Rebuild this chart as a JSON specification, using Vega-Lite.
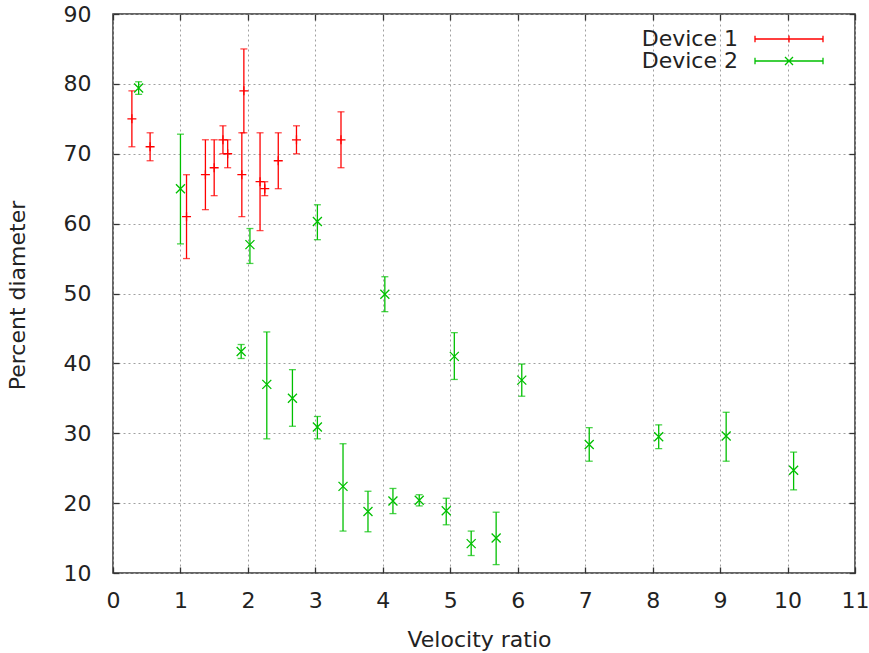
{
  "$schema": "https://vega.github.io/schema/vega-lite/v6.json",
  "width": 742,
  "height": 559,
  "autosize": {"type": "none"},
  "padding": {"left": 113, "top": 14, "right": 14, "bottom": 80},
  "background": "white",
  "config": {
    "font": "DejaVu Sans",
    "view": {"stroke": "#333333", "strokeWidth": 1.5},
    "axis": {
      "labelFont": "DejaVu Sans",
      "titleFont": "DejaVu Sans",
      "labelFontSize": 22,
      "titleFontSize": 22,
      "titleFontWeight": "normal",
      "labelColor": "#222222",
      "titleColor": "#222222",
      "domain": false,
      "tickColor": "#333333",
      "tickWidth": 1.3,
      "tickSize": -6,
      "labelFlush": false,
      "labelOverlap": false,
      "labelBound": false,
      "gridColor": "#a0a0a0",
      "gridDash": [2, 3],
      "gridWidth": 1
    }
  },
  "data": {
    "values": [
      {"device": "Device 1", "x": 0.28, "y": 75, "lo": 71, "hi": 79},
      {"device": "Device 1", "x": 0.55, "y": 71, "lo": 69, "hi": 73},
      {"device": "Device 1", "x": 1.09, "y": 61, "lo": 55, "hi": 67},
      {"device": "Device 1", "x": 1.37, "y": 67, "lo": 62, "hi": 72},
      {"device": "Device 1", "x": 1.50, "y": 68, "lo": 64, "hi": 72},
      {"device": "Device 1", "x": 1.63, "y": 72, "lo": 70, "hi": 74},
      {"device": "Device 1", "x": 1.70, "y": 70, "lo": 68, "hi": 72},
      {"device": "Device 1", "x": 1.91, "y": 67, "lo": 61, "hi": 73},
      {"device": "Device 1", "x": 1.94, "y": 79, "lo": 73, "hi": 85},
      {"device": "Device 1", "x": 2.18, "y": 66, "lo": 59, "hi": 73},
      {"device": "Device 1", "x": 2.25, "y": 65, "lo": 64, "hi": 66},
      {"device": "Device 1", "x": 2.45, "y": 69, "lo": 65, "hi": 73},
      {"device": "Device 1", "x": 2.72, "y": 72, "lo": 70, "hi": 74},
      {"device": "Device 1", "x": 3.38, "y": 72, "lo": 68, "hi": 76},
      {"device": "Device 2", "x": 0.38, "y": 79.4, "lo": 78.5, "hi": 80.3},
      {"device": "Device 2", "x": 1.00, "y": 65, "lo": 57.1, "hi": 72.8},
      {"device": "Device 2", "x": 1.90, "y": 41.7, "lo": 40.7, "hi": 42.7},
      {"device": "Device 2", "x": 2.03, "y": 57, "lo": 54.3, "hi": 59.3},
      {"device": "Device 2", "x": 2.28, "y": 37, "lo": 29.2, "hi": 44.5},
      {"device": "Device 2", "x": 2.66, "y": 35, "lo": 31, "hi": 39.1},
      {"device": "Device 2", "x": 3.03, "y": 60.3, "lo": 57.7, "hi": 62.7},
      {"device": "Device 2", "x": 3.03, "y": 30.9, "lo": 29.2, "hi": 32.4},
      {"device": "Device 2", "x": 3.41, "y": 22.4, "lo": 16.0, "hi": 28.5},
      {"device": "Device 2", "x": 3.78, "y": 18.8, "lo": 15.9, "hi": 21.7},
      {"device": "Device 2", "x": 4.03, "y": 49.9, "lo": 47.4, "hi": 52.4},
      {"device": "Device 2", "x": 4.15, "y": 20.3, "lo": 18.5, "hi": 22.1},
      {"device": "Device 2", "x": 4.54, "y": 20.4, "lo": 19.6, "hi": 21.2},
      {"device": "Device 2", "x": 4.94, "y": 18.9, "lo": 16.9, "hi": 20.7},
      {"device": "Device 2", "x": 5.06, "y": 41, "lo": 37.7, "hi": 44.4},
      {"device": "Device 2", "x": 5.31, "y": 14.2, "lo": 12.5, "hi": 16.0},
      {"device": "Device 2", "x": 5.68, "y": 15, "lo": 11.2, "hi": 18.7},
      {"device": "Device 2", "x": 6.06, "y": 37.6, "lo": 35.3, "hi": 39.9},
      {"device": "Device 2", "x": 7.06, "y": 28.4, "lo": 26.0, "hi": 30.8},
      {"device": "Device 2", "x": 8.09, "y": 29.5, "lo": 27.8, "hi": 31.2},
      {"device": "Device 2", "x": 9.09, "y": 29.6, "lo": 26.0, "hi": 33.0},
      {"device": "Device 2", "x": 10.09, "y": 24.7, "lo": 21.9, "hi": 27.3}
    ]
  },
  "layer": [
    {
      "mark": {"type": "rule", "strokeWidth": 1.3},
      "encoding": {
        "x": {
          "field": "x", "type": "quantitative",
          "scale": {"domain": [0, 11], "nice": false, "zero": false},
          "axis": {
            "orient": "bottom",
            "values": [0, 1, 2, 3, 4, 5, 6, 7, 8, 9, 10, 11],
            "grid": true,
            "labelBaseline": "alphabetic",
            "labelPadding": 40,
            "title": "Velocity ratio",
            "titleX": 366,
            "titleY": 73,
            "titleBaseline": "alphabetic"
          }
        },
        "y": {
          "field": "lo", "type": "quantitative",
          "scale": {"domain": [10, 90], "nice": false, "zero": false},
          "axis": {
            "orient": "left",
            "values": [10, 20, 30, 40, 50, 60, 70, 80, 90],
            "grid": true,
            "labelPadding": 28,
            "title": "Percent diameter",
            "titleX": -89,
            "titleY": 281,
            "titleAngle": -90,
            "titleAlign": "center",
            "titleBaseline": "alphabetic"
          }
        },
        "y2": {"field": "hi"},
        "color": {
          "field": "device", "type": "nominal",
          "scale": {"domain": ["Device 1", "Device 2"], "range": ["#ff0000", "#00c000"]},
          "legend": {
            "title": null,
            "orient": "none",
            "legendX": 665,
            "legendY": 14,
            "padding": 0,
            "symbolSize": 256,
            "symbolStrokeWidth": 1.3,
            "labelFont": "DejaVu Sans",
            "labelFontSize": 22,
            "labelColor": "#222222",
            "labelAlign": "right",
            "labelOffset": -62,
            "rowPadding": -2,
            "encode": {
              "symbols": {
                "update": {
                  "shape": {"signal": "datum.value === 'Device 1' ? 'M-4.25,0H4.25M-4.25,-0.4V0.4M4.25,-0.4V0.4M0,-0.45V0.45' : 'M-4.25,0H4.25M-4.25,-0.4V0.4M4.25,-0.4V0.4M-0.5,-0.5L0.5,0.5M-0.5,0.5L0.5,-0.5'"},
                  "stroke": {"scale": "color", "field": "value"},
                  "fill": {"value": "transparent"},
                  "strokeWidth": {"value": 1.3}
                }
              }
            }
          }
        }
      }
    },
    {
      "mark": {"type": "tick", "orient": "horizontal", "size": 7, "thickness": 1.3},
      "encoding": {
        "x": {
          "field": "x", "type": "quantitative",
          "axis": {
            "orient": "top",
            "values": [0, 1, 2, 3, 4, 5, 6, 7, 8, 9, 10, 11],
            "labels": false, "grid": false, "title": null
          }
        },
        "y": {
          "field": "lo", "type": "quantitative",
          "axis": {
            "orient": "right",
            "values": [10, 20, 30, 40, 50, 60, 70, 80, 90],
            "labels": false, "grid": false, "title": null
          }
        },
        "color": {"field": "device", "type": "nominal"}
      }
    },
    {
      "mark": {"type": "tick", "orient": "horizontal", "size": 7, "thickness": 1.3},
      "encoding": {
        "x": {"field": "x", "type": "quantitative", "axis": null},
        "y": {"field": "hi", "type": "quantitative", "axis": null},
        "color": {"field": "device", "type": "nominal"}
      }
    },
    {
      "transform": [{"filter": "datum.device === 'Device 1'"}],
      "mark": {"type": "point", "shape": "M-1,0H1M0,-1V1", "filled": false, "opacity": 1, "size": 81, "strokeWidth": 1.3},
      "encoding": {
        "x": {"field": "x", "type": "quantitative", "axis": null},
        "y": {"field": "y", "type": "quantitative", "axis": null},
        "color": {"field": "device", "type": "nominal"}
      }
    },
    {
      "transform": [{"filter": "datum.device === 'Device 2'"}],
      "mark": {"type": "point", "shape": "M-1,-1L1,1M-1,1L1,-1", "filled": false, "opacity": 1, "size": 81, "strokeWidth": 1.3},
      "encoding": {
        "x": {"field": "x", "type": "quantitative", "axis": null},
        "y": {"field": "y", "type": "quantitative", "axis": null},
        "color": {"field": "device", "type": "nominal"}
      }
    }
  ],
  "resolve": {"axis": {"x": "independent", "y": "independent"}}
}
